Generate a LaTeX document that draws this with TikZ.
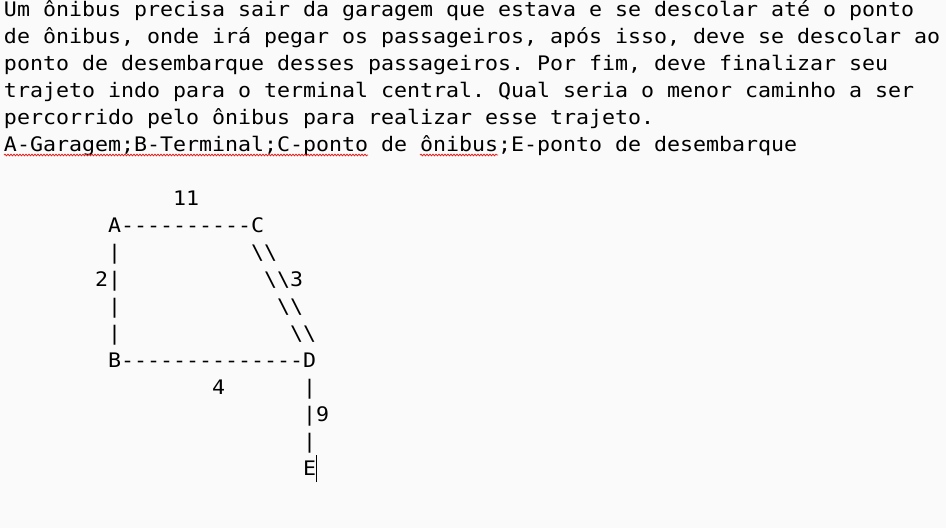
\documentclass[tikz,border=0pt]{standalone}
\usepackage{fontspec}
\setmonofont{DejaVu Sans Mono}[FakeStretch=1.08]
\usetikzlibrary{decorations.pathmorphing}
\definecolor{fundo}{RGB}{250,250,250}
\definecolor{sublinha}{RGB}{225,30,30}
\newcommand{\contra}{\textbackslash}

\begin{document}
\begin{tikzpicture}[x=13pt,y=-27pt]
\tikzstyle{txt} = [anchor=base west,inner sep=0pt,outer sep=0pt,font=\ttfamily\fontsize{20}{27}\selectfont] %texto mono
\tikzstyle{erro} = [draw=sublinha,line width=0.8pt,decorate,decoration={snake,amplitude=0.8pt,segment length=3pt}]
%fundo
\useasboundingbox[fill=fundo] (-4pt,16pt) rectangle (942pt,-512pt);
%enunciado
\draw(0,0)node[txt](l0){Um ônibus precisa sair da garagem que estava e se descolar até o ponto};
\draw(0,1)node[txt](l1){de ônibus, onde irá pegar os passageiros, após isso, deve se descolar ao};
\draw(0,2)node[txt](l2){ponto de desembarque desses passageiros. Por fim, deve finalizar seu};
\draw(0,3)node[txt](l3){trajeto indo para o terminal central. Qual seria o menor caminho a ser};
\draw(0,4)node[txt](l4){percorrido pelo ônibus para realizar esse trajeto.};
\draw(0,5)node[txt](l5){A-Garagem;B-Terminal;C-ponto de ônibus;E-ponto de desembarque};
%sublinhado do corretor
\draw[erro] ([yshift=-4pt]l5.base west) -- ++(28,0);
\draw[erro] ([xshift=416pt,yshift=-4pt]l5.base west) -- ++(6,0);
%lado A-C
\draw(13,7)node[txt](c11){11};
\draw(8,8)node[txt](A){A};
\draw(9,8)node[txt](AC){----------};
\draw(19,8)node[txt](C){C};
%lados A-B e C-D
\draw(8,9)node[txt](AB1){|};
\draw(19,9)node[txt](CD1){\contra\contra};
\draw(7,10)node[txt](c2){2};
\draw(8,10)node[txt](AB2){|};
\draw(20,10)node[txt](CD2){\contra\contra};
\draw(22,10)node[txt](c3){3};
\draw(8,11)node[txt](AB3){|};
\draw(21,11)node[txt](CD3){\contra\contra};
\draw(8,12)node[txt](AB4){|};
\draw(22,12)node[txt](CD4){\contra\contra};
%lado B-D
\draw(8,13)node[txt](B){B};
\draw(9,13)node[txt](BD){--------------};
\draw(23,13)node[txt](D){D};
\draw(16,14)node[txt](c4){4};
%lado D-E
\draw(23,14)node[txt](DE1){|};
\draw(23,15)node[txt](DE2){|};
\draw(24,15)node[txt](c9){9};
\draw(23,16)node[txt](DE3){|};
\draw(23,17)node[txt](E){E};
%cursor
\draw[line width=1pt] ([yshift=-7pt]E.base east) -- ([yshift=20pt]E.base east);
\end{tikzpicture}
\end{document}
